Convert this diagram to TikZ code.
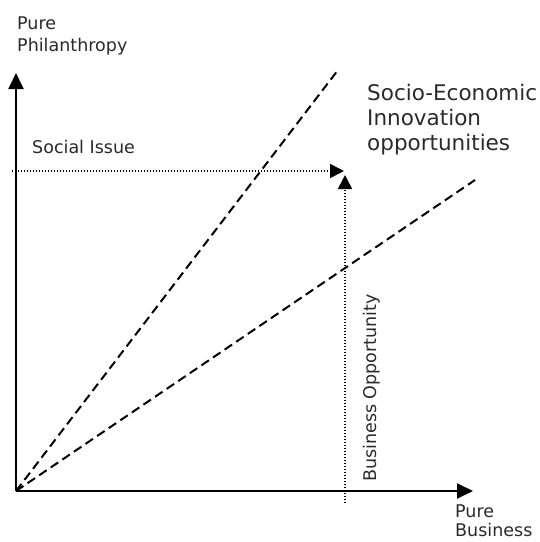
\documentclass[tikz,border=0pt]{standalone}
\usepackage{fontspec}
\setmainfont{DejaVu Sans}
\usepackage{xcolor}
\usetikzlibrary{arrows.meta}

\definecolor{labelgray}{HTML}{2A2A2A}

\begin{document}
\begin{tikzpicture}[x = 1pt, y = -1pt,
    axis/.style = {line width = 2pt, -{Triangle[length = 16pt, width = 15pt]}},
    guide/.style = {line width = 1.6pt, dash pattern = on 1.4pt off 1.6pt, -{Triangle[length = 14pt, width = 14pt]}},
    bound/.style = {line width = 2pt, dash pattern = on 9pt off 5pt},
    lbl/.style = {text = labelgray, inner sep = 0pt, font = \fontsize{17.5}{21.5}\selectfont, align = left},
    biglbl/.style = {lbl, font = \fontsize{21.5}{25}\selectfont}]
  \useasboundingbox (0, 0) rectangle (540, 542);
  \coordinate (O) at (16, 491);
  \coordinate (ytip) at (16, 73);
  \coordinate (xtip) at (473, 491);
  \coordinate (steep) at (338, 70);
  \coordinate (flat) at (475, 180);
  \coordinate (issue) at (12, 171);
  \coordinate (issuetip) at (344, 171);
  \coordinate (oppbase) at (345, 503);
  \coordinate (opptip) at (345, 175);
  % axes
  \draw [axis] (O) -- (ytip);
  \draw [axis] (O) -- (xtip);
  % dashed bounds
  \draw [bound] (O) -- (steep);
  \draw [bound] (O) -- (flat);
  % dotted guides
  \draw [guide] (issue) -- (issuetip);
  \draw [guide] (oppbase) -- (opptip);
  % labels
  \node [lbl, anchor = north west] (philanthropy) at (17, 17) {Pure\\Philanthropy};
  \node [lbl, anchor = base west] (social) at (32, 153) {Social Issue};
  \node [biglbl, anchor = north west] (socio) at (367, 84) {Socio-Economic\\Innovation\\opportunities};
  \node [lbl, anchor = base west, rotate = 90] (opportunity) at (376, 482) {Business Opportunity};
  \node [lbl, anchor = north west, font = \fontsize{17.5}{19}\selectfont] (business) at (455, 505) {Pure\\Business};
\end{tikzpicture}
\end{document}
